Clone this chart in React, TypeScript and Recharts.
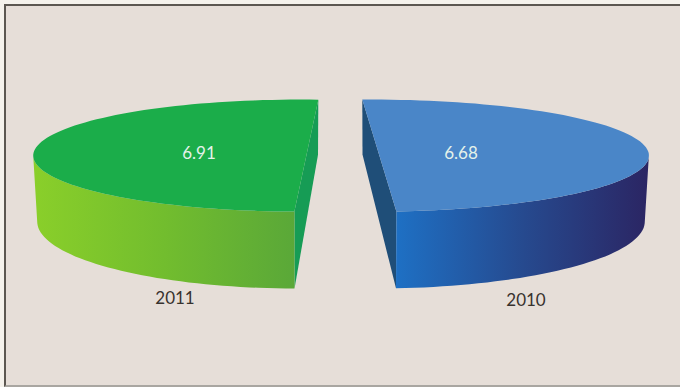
import * as React from "react";
import { Pie, PieChart } from "recharts";

const years = ["2010", "2011"];
const rates = [6.68, 6.91];

const chartData = years.map((name, i) => ({ name, value: rates[i] }));

// How each half of the exploded pie sits and is painted
const SLICE_STYLES: Record<string, any> = {
  "2010": {
    shift: 36,
    stretch: 1.02,
    twist: 3.5,
    top: "#4a86c8",
    wall: "#1f4e78",
    sideStops: ["#1e70c4", "#264a8f", "#2b2563"],
    valuePos: [125, -1],
    namePos: [190, 146],
  },
  "2011": {
    shift: -36.7,
    stretch: 0.98,
    twist: -2.6,
    top: "#1bad4a",
    wall: "#169c55",
    sideStops: ["#8acf2a", "#72bd2e", "#5aa838"],
    valuePos: [-137, -1],
    namePos: [-161, 144.5],
  },
};

const TILT = 56 / 271.5;
const BASE_DROP = 66;
const BASE_TILT = 67 / 271.5;
const BASE_SCALE = 0.985;
const RAD = Math.PI / 180;

function arcAngles(from: number, to: number) {
  const out: number[] = [];
  const steps = Math.ceil(Math.abs(to - from) / 2);
  for (let i = 0; i <= steps; i++) out.push(from + ((to - from) * i) / steps);
  return out;
}

const toPath = (pts: number[][]) =>
  pts.map((p, i) => `${i ? "L" : "M"}${p[0].toFixed(1)},${p[1].toFixed(1)}`).join(" ") + " Z";

function Slice3D(props: any) {
  const { cx, cy, outerRadius, startAngle, endAngle, name } = props;
  const style = SLICE_STYLES[name];
  const start = startAngle + style.twist;
  const end = endAngle + style.twist;
  const centerX = cx + style.shift;
  const rx = outerRadius * style.stretch;

  const onTop = (a: number) => [
    centerX + rx * Math.cos(a * RAD),
    cy - outerRadius * TILT * Math.sin(a * RAD),
  ];
  const onBase = (a: number) => [
    centerX + rx * BASE_SCALE * Math.cos(a * RAD),
    cy + BASE_DROP - outerRadius * BASE_TILT * Math.sin(a * RAD),
  ];

  const angles = arcAngles(start, end);
  // only the front part of the rim is visible
  const front = angles.filter((a) => Math.sin(a * RAD) <= 0);
  const gradId = `side-${name}`;

  return (
    <g>
      <defs>
        <linearGradient id={gradId} x1="0" y1="0" x2="1" y2="0">
          <stop offset="0%" stopColor={style.sideStops[0]} />
          <stop offset="50%" stopColor={style.sideStops[1]} />
          <stop offset="100%" stopColor={style.sideStops[2]} />
        </linearGradient>
      </defs>
      {/* cut face */}
      <path
        d={toPath([onTop(start), onTop(end), onBase(end), onBase(start)])}
        fill={style.wall}
      />
      {/* rim */}
      <path
        d={toPath([...front.map(onTop), ...front.slice().reverse().map(onBase)])}
        fill={`url(#${gradId})`}
      />
      {/* top face, closed along the chord */}
      <path d={toPath(angles.map(onTop))} fill={style.top} />
    </g>
  );
}

function SliceLabels(props: any) {
  const { cx, cy, name, value } = props;
  const style = SLICE_STYLES[name];
  const font = { fontFamily: "Lato, 'Open Sans', sans-serif", fontSize: 17 };
  return (
    <g>
      <text
        x={cx + style.valuePos[0]}
        y={cy + style.valuePos[1]}
        textAnchor="middle"
        dominantBaseline="middle"
        fill="#e4f2ea"
        style={font}
      >
        {Number(value).toFixed(2)}
      </text>
      <text
        x={cx + style.namePos[0]}
        y={cy + style.namePos[1]}
        textAnchor="middle"
        dominantBaseline="middle"
        fill="#38322e"
        style={font}
      >
        {name}
      </text>
    </g>
  );
}

export default function App() {
  return (
    <div style={{ position: "absolute", left: 0, top: 0, width: 680, height: 387, background: "#f5f2ec", overflow: "hidden" }}>
      <div
        style={{
          position: "absolute",
          left: 4,
          top: 4,
          width: 676,
          height: 383,
          boxSizing: "border-box",
          background: "#e6ded8",
          borderLeft: "2px solid #5c5751",
          borderTop: "2px solid #5c5751",
          borderBottom: "2px solid #a9a6a1",
        }}
      />
      <div style={{ position: "absolute", left: 0, top: 0 }}>
        <PieChart width={680} height={387} margin={{ top: 0, right: 0, bottom: 0, left: 0 }}>
          <Pie
            data={chartData}
            dataKey="value"
            nameKey="name"
            cx={336}
            cy={155.6}
            outerRadius={271.5}
            startAngle={-88.45}
            endAngle={271.55}
            stroke="none"
            shape={Slice3D}
            label={SliceLabels}
            labelLine={false}
            isAnimationActive={false}
          />
        </PieChart>
      </div>
    </div>
  );
}
